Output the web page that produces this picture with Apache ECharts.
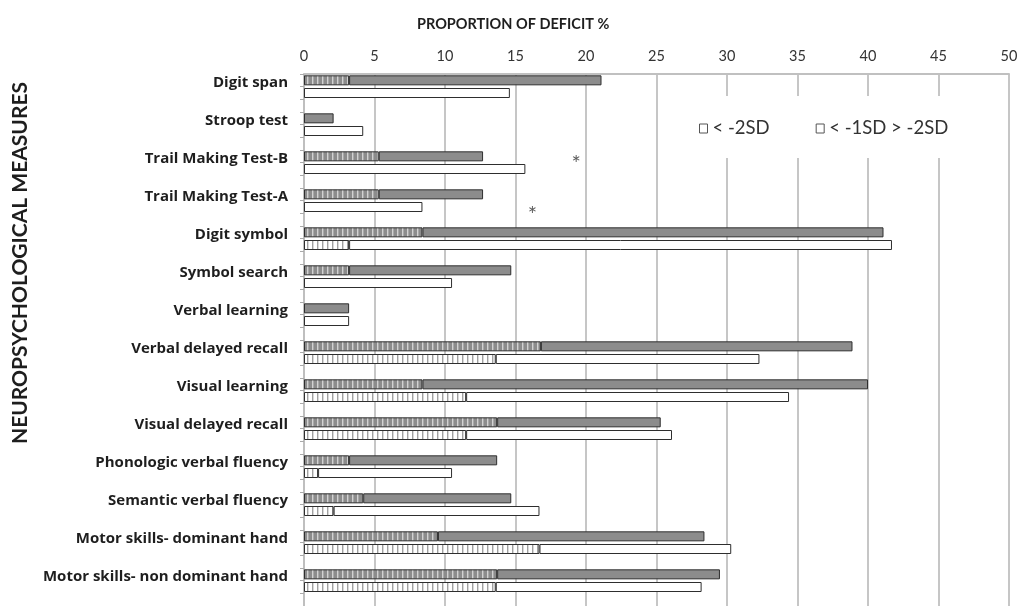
<!DOCTYPE html>
<html>
<head>
<meta charset="utf-8">
<script src="https://cdn.jsdelivr.net/npm/echarts@6/dist/echarts.min.js"></script>
<style>
html,body{margin:0;padding:0;background:#fff;}
#chart{width:1023px;height:606px;}
</style>
</head>
<body>
<div id="chart"></div>
<script>
// ---- data ----
const categories = ['Digit span','Stroop test','Trail Making Test-B','Trail Making Test-A','Digit symbol','Symbol search','Verbal learning','Verbal delayed recall','Visual learning','Visual delayed recall','Phonologic verbal fluency','Semantic verbal fluency','Motor skills- dominant hand','Motor skills- non dominant hand'];
// top (grey) bars
const grayBelow2SD = [3.2, 0, 5.3, 5.3, 8.4, 3.2, 0, 16.8, 8.4, 13.7, 3.2, 4.2, 9.5, 13.7];
const grayBetween1and2SD = [17.9, 2.1, 7.4, 7.4, 32.7, 11.5, 3.2, 22.1, 31.6, 11.6, 10.5, 10.5, 18.9, 15.8];
// bottom (white) bars
const whiteBelow2SD = [0, 0, 0, 0, 3.2, 0, 0, 13.6, 11.5, 11.5, 1.0, 2.1, 16.7, 13.6];
const whiteBetween1and2SD = [14.6, 4.2, 15.7, 8.4, 38.5, 10.5, 3.2, 18.7, 22.9, 14.6, 9.5, 14.6, 13.6, 14.6];
const xTickValues = [0,5,10,15,20,25,30,35,40,45,50];
const legendNames = ['< -2SD', '< -1SD > -2SD'];
const asteriskCategories = ['Trail Making Test-B', 'Trail Making Test-A'];
const asteriskRows = [0, 1];        // 0 = grey bar row, 1 = white bar row
const asteriskValues = [19.3, 16.2];

// ---- build slots: grey row, white row, spacer row per category ----
const SEP = '\u0001';
const slotNames = [];
categories.forEach(c => { slotNames.push(c); slotNames.push(c + SEP + 'w'); slotNames.push(c + SEP + 's'); });
function toSlots(values, row) {
  const out = new Array(slotNames.length).fill('-');
  values.forEach((v, i) => { if (v > 0) out[i * 3 + row] = v; });
  return out;
}
function hatch(base, stripe) {
  const c = document.createElement('canvas');
  c.width = 5; c.height = 10;
  const g = c.getContext('2d');
  g.fillStyle = base; g.fillRect(0, 0, 5, 10);
  g.fillStyle = stripe; g.fillRect(2, 0, 1.4, 10);
  return { image: c, repeat: 'repeat' };
}
const FONT = 'Lato';
const LABELFONT = 'Open Sans';
const GRAY = '#8c8c8c';
const BORDER = '#2e2e2e';
const asteriskData = asteriskCategories.map((c, i) => [asteriskValues[i], categories.indexOf(c) * 3 + asteriskRows[i]]);

const chart = echarts.init(document.getElementById('chart'), null, { renderer: 'canvas' });
chart.setOption({
  animation: false,
  backgroundColor: '#fff',
  title: {
    text: 'PROPORTION OF DEFICIT %', left: 412, top: 12,
    textStyle: { fontFamily: FONT, fontWeight: 'bold', fontSize: 14.5, color: '#1e1e1e' }
  },
  graphic: [{
    type: 'text', x: 20, y: 263, rotation: Math.PI / 2,
    style: { text: 'NEUROPSYCHOLOGICAL MEASURES', align: 'center', verticalAlign: 'middle',
      fontFamily: FONT, fontWeight: 'bold', fontSize: 21, fill: '#1e1e1e' }
  }],
  legend: {
    left: 687, top: 96,
    padding: [23, 50, 20, 12],
    backgroundColor: '#fff',
    itemWidth: 8, itemHeight: 9, itemGap: 46,
    icon: 'rect',
    itemStyle: { color: '#fff', borderColor: '#555', borderWidth: 1 },
    textStyle: { fontFamily: FONT, fontSize: 18.5, color: '#333' },
    data: legendNames.map(n => ({ name: n, icon: 'rect', itemStyle: { color: '#fff', borderColor: '#555', borderWidth: 1 } }))
  },
  grid: { left: 304, right: 14, top: 74, height: 534, containLabel: false },
  xAxis: {
    type: 'value', position: 'top', min: xTickValues[0], max: xTickValues[xTickValues.length - 1], interval: 5,
    axisLine: { show: true, lineStyle: { color: '#c0c0c0', width: 2 } },
    axisTick: { show: false },
    axisLabel: { fontFamily: FONT, fontSize: 14.5, color: '#333', margin: 10 },
    splitLine: { show: true, lineStyle: { color: '#c6c6c6', width: 2 } }
  },
  yAxis: {
    type: 'category', inverse: true, data: slotNames,
    axisLine: { show: true, lineStyle: { color: '#bdbdbd', width: 1.5 } },
    axisTick: { show: true, interval: 0, length: 4, lineStyle: { color: '#aaa' } },
    axisLabel: {
      interval: 0, margin: 16, fontFamily: LABELFONT, fontWeight: 'bold', fontSize: 15, color: '#1e1e1e',
      verticalAlign: 'top', lineHeight: 5,
      formatter: v => v.indexOf(SEP) >= 0 ? '' : v
    },
    splitLine: { show: false }
  },
  series: [
    { name: legendNames[0], type: 'bar', stack: 'a', barWidth: 10, data: toSlots(grayBelow2SD, 0),
      itemStyle: { color: hatch(GRAY, '#d2d2d2'), borderColor: BORDER, borderWidth: 1 } },
    { name: legendNames[1], type: 'bar', stack: 'a', barWidth: 10, data: toSlots(grayBetween1and2SD, 0),
      itemStyle: { color: GRAY, borderColor: BORDER, borderWidth: 1 } },
    { name: 'white-below', type: 'bar', stack: 'a', barWidth: 10, data: toSlots(whiteBelow2SD, 1),
      itemStyle: { color: hatch('#ffffff', '#a0a0a0'), borderColor: BORDER, borderWidth: 1 } },
    { name: 'white-between', type: 'bar', stack: 'a', barWidth: 10, data: toSlots(whiteBetween1and2SD, 1),
      itemStyle: { color: '#ffffff', borderColor: BORDER, borderWidth: 1 } },
    { name: 'asterisk', type: 'scatter', symbolSize: 0, data: asteriskData, z: 5,
      label: { show: true, position: 'inside', formatter: '*', offset: [0, 8],
        fontFamily: FONT, fontSize: 22, color: '#333' } }
  ]
});
</script>
</body>
</html>
